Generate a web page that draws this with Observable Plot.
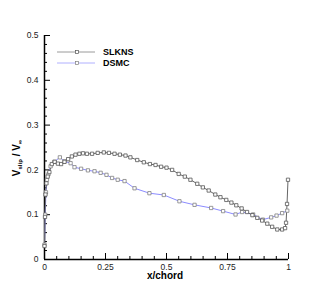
<!DOCTYPE html>
<html>
<head>
<meta charset="utf-8">
<script src="https://cdn.jsdelivr.net/npm/d3@7"></script>
<script src="https://cdn.jsdelivr.net/npm/@observablehq/plot@0.6"></script>
<style>
  html, body { margin: 0; padding: 0; background: white; }
</style>
</head>
<body>
<div id="chart"></div>
<script>
// SLKNS series
const slknsX = [0.000,0.002,0.004,0.008,0.013,0.020,0.030,0.042,0.055,0.068,0.082,0.097,0.112,0.127,0.143,0.158,0.174,0.195,0.218,0.243,0.264,0.287,0.309,0.332,0.352,0.380,0.407,0.432,0.455,0.478,0.500,0.523,0.550,0.575,0.598,0.626,0.649,0.673,0.700,0.721,0.745,0.766,0.786,0.808,0.830,0.852,0.872,0.892,0.913,0.933,0.954,0.974,0.986,0.990,0.994,0.998];
const slknsY = [0.030,0.095,0.145,0.170,0.185,0.195,0.213,0.218,0.214,0.213,0.218,0.224,0.230,0.234,0.236,0.237,0.236,0.236,0.238,0.239,0.238,0.236,0.234,0.232,0.228,0.222,0.217,0.213,0.211,0.207,0.205,0.200,0.191,0.185,0.178,0.169,0.161,0.154,0.145,0.139,0.133,0.127,0.121,0.114,0.106,0.099,0.093,0.087,0.080,0.073,0.067,0.067,0.070,0.082,0.124,0.178];
// DSMC series
const dsmcX = [0.000,0.003,0.006,0.010,0.016,0.025,0.040,0.063,0.082,0.107,0.123,0.150,0.178,0.205,0.230,0.254,0.277,0.300,0.328,0.369,0.430,0.489,0.553,0.615,0.683,0.732,0.783,0.810,0.855,0.895,0.929,0.951,0.974,0.995];
const dsmcY = [0.033,0.100,0.150,0.178,0.190,0.208,0.218,0.228,0.219,0.215,0.206,0.2025,0.199,0.197,0.1935,0.189,0.182,0.178,0.175,0.159,0.148,0.144,0.130,0.122,0.115,0.108,0.1005,0.106,0.1005,0.089,0.094,0.098,0.1035,0.109];
// tick labels
const yMajor = [0, 0.1, 0.2, 0.3, 0.4, 0.5];
const yMinor = [0.02,0.04,0.06,0.08,0.12,0.14,0.16,0.18,0.22,0.24,0.26,0.28,0.32,0.34,0.36,0.38,0.42,0.44,0.46,0.48];
const xMajor = [0, 0.25, 0.5, 0.75, 1];
const xMinor = [0.05,0.1,0.15,0.2,0.3,0.35,0.4,0.45,0.55,0.6,0.65,0.7,0.8,0.85,0.9,0.95];
const seriesNames = ["SLKNS", "DSMC"];

const slkns = slknsX.map((x, i) => ({x, y: slknsY[i]}));
const dsmc = dsmcX.map((x, i) => ({x, y: dsmcY[i]}));

const slkLine = "#666666", slkMark = "#555555";
const dsmcLine = "#8c8cff", dsmcMark = "#808080";

const svg = Plot.plot({
  width: 327,
  height: 291,
  marginLeft: 44,
  marginRight: 39,
  marginTop: 35,
  marginBottom: 32,
  style: {fontFamily: "'Liberation Sans', Arial, sans-serif", fontSize: "8.5px", background: "white", color: "#222"},
  x: {domain: [0, 1]},
  y: {domain: [0, 0.5]},
  marks: [
    Plot.axisY(yMajor, {tickSize: 0, tickPadding: 6, tickFormat: d => String(d), label: null}),
    Plot.axisY(yMajor, {tickSize: -6, tickFormat: () => "", label: null, stroke: "#000"}),
    Plot.axisY(yMinor, {tickSize: -3, tickFormat: () => "", label: null, stroke: "#000"}),
    Plot.axisX(xMajor, {tickSize: 0, tickPadding: 4, tickFormat: d => String(d), label: null}),
    Plot.axisX(xMajor, {tickSize: -6, tickFormat: () => "", label: null, stroke: "#000"}),
    Plot.axisX(xMinor, {tickSize: -3, tickFormat: () => "", label: null, stroke: "#000"}),
    Plot.ruleX([0], {stroke: "#000", strokeWidth: 1.5}),
    Plot.ruleY([0], {stroke: "#000", strokeWidth: 1.5}),
    Plot.line(dsmc, {x: "x", y: "y", stroke: dsmcLine, strokeWidth: 1}),
    Plot.line(slkns, {x: "x", y: "y", stroke: slkLine, strokeWidth: 1}),
    Plot.dot(dsmc, {x: "x", y: "y", symbol: "square", r: 1.85, stroke: dsmcMark, fill: "white", strokeWidth: 0.8}),
    Plot.dot(slkns, {x: "x", y: "y", symbol: "square", r: 1.85, stroke: slkMark, fill: "white", strokeWidth: 0.8})
  ]
});

const s = d3.select(svg);
// y label
const yl = s.append("text")
  .attr("transform", "translate(20,158) rotate(-90)")
  .attr("text-anchor", "middle")
  .attr("font-weight", "bold")
  .attr("font-size", "10px")
  .attr("fill", "#000");
yl.append("tspan").text("V");
yl.append("tspan").attr("font-size", "6px").attr("dy", "2").text("slip");
yl.append("tspan").attr("dy", "-2").text(" / V");
yl.append("tspan").attr("font-size", "6px").attr("dy", "2").text("\u221e");

// x label
s.append("text")
  .attr("x", 165).attr("y", 279)
  .attr("text-anchor", "middle")
  .attr("font-weight", "bold")
  .attr("font-size", "10px")
  .attr("fill", "#000")
  .text("x/chord");

// legend
const legend = [
  {name: seriesNames[0], line: "#9a9a9a", mark: slkMark},
  {name: seriesNames[1], line: "#b0b0ff", mark: dsmcMark}
];
legend.forEach((d, i) => {
  const y = 52 + i * 11;
  s.append("line").attr("x1", 57).attr("x2", 95).attr("y1", y).attr("y2", y)
    .attr("stroke", d.line).attr("stroke-width", 1);
  s.append("rect").attr("x", 75.5).attr("y", y - 1.5).attr("width", 3).attr("height", 3)
    .attr("fill", "white").attr("stroke", d.mark).attr("stroke-width", 0.7);
  s.append("text").attr("x", 103).attr("y", y + 3.2)
    .attr("text-anchor", "start")
    .attr("font-weight", "bold").attr("font-size", "9px").attr("fill", "#000")
    .text(d.name);
});

document.getElementById("chart").appendChild(svg);
</script>
</body>
</html>
